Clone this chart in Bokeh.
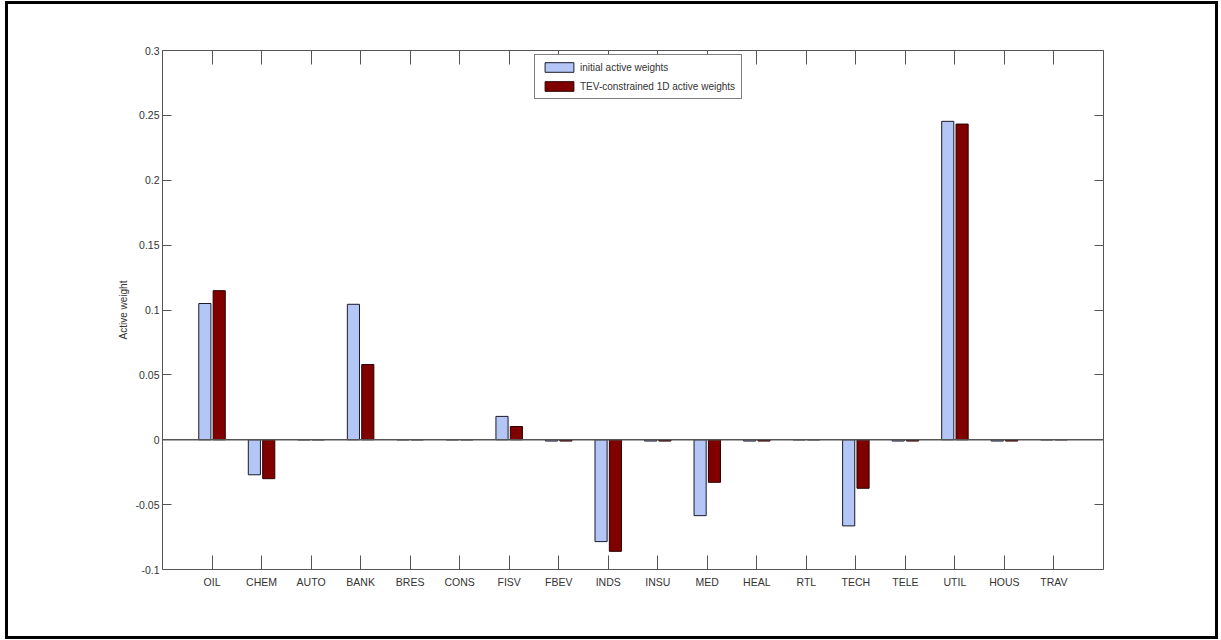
from bokeh.plotting import figure
from bokeh.models import (Range1d, FixedTicker, LinearAxis, Span, Legend, LegendItem,
                          ColumnDataSource, CustomJSTickFormatter)
from bokeh.transform import dodge
from bokeh.embed import file_html
from bokeh.resources import INLINE

categories = ["OIL", "CHEM", "AUTO", "BANK", "BRES", "CONS", "FISV", "FBEV", "INDS",
              "INSU", "MED", "HEAL", "RTL", "TECH", "TELE", "UTIL", "HOUS", "TRAV"]
initial_active = [0.105, -0.027, 0.0, 0.1044, 0.0, 0.0, 0.018, -0.001, -0.0785,
                  -0.001, -0.0585, -0.001, 0.0, -0.0664, -0.001, 0.2454, -0.001, 0.0]
tev_active = [0.1149, -0.030, 0.0, 0.058, 0.0, 0.0, 0.0102, -0.001, -0.086,
              -0.001, -0.0328, -0.001, 0.0, -0.0374, -0.001, 0.2433, -0.001, 0.0]
y_ticks = [-0.1, -0.05, 0, 0.05, 0.1, 0.15, 0.2, 0.25, 0.3]
y_tick_labels = ["-0.1", "-0.05", "0", "0.05", "0.1", "0.15", "0.2", "0.25", "0.3"]

x_pos = list(range(1, len(categories) + 1))
src = ColumnDataSource(dict(x=x_pos, a=initial_active, b=tev_active))

FONT = "Liberation Sans"
AX = "#555555"

p = figure(width=1213, height=638, output_backend="svg", toolbar_location=None,
           x_range=Range1d(0, 19), y_range=Range1d(-0.1, 0.3),
           min_border_left=154, min_border_top=46, min_border_right=118,
           min_border_bottom=73,
           styles={"border": "3px solid black", "margin-left": "5px",
                   "margin-top": "1px"})
p.xgrid.visible = False
p.ygrid.visible = False
p.outline_line_color = None
p.background_fill_color = "white"
p.border_fill_color = "white"

r1 = p.vbar(x=dodge("x", -0.145), top="a", bottom=0, width=0.245, source=src,
            fill_color="#B3C6F5", line_color="#1a1a2a", line_width=1)
r2 = p.vbar(x=dodge("x", 0.145), top="b", bottom=0, width=0.245, source=src,
            fill_color="#800000", line_color="#2a0000", line_width=1)

p.add_layout(Span(location=0, dimension="width", line_color="#555555", line_width=1.5))

xt = FixedTicker(ticks=x_pos)
yt = FixedTicker(ticks=y_ticks)

def style_axis(ax, tick_len):
    ax.axis_line_color = AX
    ax.major_tick_line_color = AX
    ax.major_tick_in = tick_len
    ax.major_tick_out = 0
    ax.minor_tick_line_color = None
    ax.major_label_text_font = FONT
    ax.major_label_text_font_size = "10.5px"
    ax.major_label_text_color = "#333333"

xa = p.xaxis[0]
xa.ticker = xt
xa.major_label_overrides = {i: c for i, c in zip(x_pos, categories)}
style_axis(xa, 14)
xa.major_label_standoff = 6

ya = p.yaxis[0]
ya.ticker = yt
ya.major_label_overrides = {t: l for t, l in zip(y_ticks, y_tick_labels)}
style_axis(ya, 9)
ya.major_label_standoff = 3
ya.axis_label = "Active weight"
ya.axis_label_text_font = FONT
ya.axis_label_text_font_size = "10px"
ya.axis_label_text_font_style = "normal"
ya.axis_label_text_color = "#333333"
ya.axis_label_standoff = 4

blank = CustomJSTickFormatter(code="return '';")
top_ax = LinearAxis(ticker=xt, formatter=blank)
style_axis(top_ax, 14)
top_ax.major_label_standoff = 0
p.add_layout(top_ax, "above")
right_ax = LinearAxis(ticker=yt, formatter=blank)
style_axis(right_ax, 9)
right_ax.major_label_standoff = 0
p.add_layout(right_ax, "right")

legend = Legend(items=[LegendItem(label="initial active weights", renderers=[r1]),
                       LegendItem(label="TEV-constrained 1D active weights", renderers=[r2])],
                location=(372, 470))
legend.border_line_color = "black"
legend.border_line_width = 1
legend.background_fill_color = "white"
legend.background_fill_alpha = 1
legend.padding = 6
legend.spacing = 7
legend.margin = 0
legend.glyph_width = 36
legend.glyph_height = 12
legend.label_standoff = 3
legend.label_text_font = FONT
legend.label_text_font_size = "10px"
legend.label_text_color = "#333333"
legend.label_height = 12
p.add_layout(legend, "center")

open("out.html", "w").write(file_html(p, INLINE))
